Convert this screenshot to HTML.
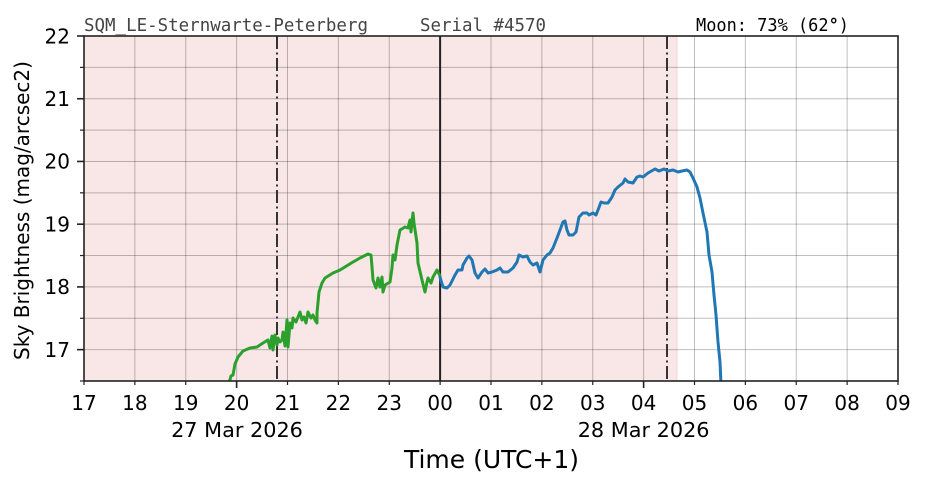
<!DOCTYPE html>
<html>
<head>
<meta charset="utf-8">
<style>
html,body{margin:0;padding:0;background:#fff;}
svg{display:block;}
.tick{font-family:"DejaVu Sans","Liberation Sans",sans-serif;font-size:20px;fill:#000;}
.mono{font-family:"DejaVu Sans Mono","Liberation Mono",monospace;font-size:17.4px;}
</style>
</head>
<body>
<svg width="926" height="488" viewBox="0 0 926 488" xmlns="http://www.w3.org/2000/svg">
<defs>
<clipPath id="c"><rect x="84" y="36" width="814" height="345"/></clipPath>
</defs>
<rect x="0" y="0" width="926" height="488" fill="#fff"/>
<rect x="84" y="36" width="593" height="345" fill="#f9e6e7"/>
<line x1="677" y1="36" x2="677" y2="381" stroke="#f6d4d6" stroke-width="1"/>
<g stroke="#000" stroke-opacity="0.25" stroke-width="1">
<line x1="84" y1="67.36" x2="898" y2="67.36"/>
<line x1="84" y1="98.73" x2="898" y2="98.73"/>
<line x1="84" y1="130.09" x2="898" y2="130.09"/>
<line x1="84" y1="161.45" x2="898" y2="161.45"/>
<line x1="84" y1="192.82" x2="898" y2="192.82"/>
<line x1="84" y1="224.18" x2="898" y2="224.18"/>
<line x1="84" y1="255.55" x2="898" y2="255.55"/>
<line x1="84" y1="286.91" x2="898" y2="286.91"/>
<line x1="84" y1="318.27" x2="898" y2="318.27"/>
<line x1="84" y1="349.64" x2="898" y2="349.64"/>
<line x1="134.875" y1="36" x2="134.875" y2="381"/>
<line x1="185.75" y1="36" x2="185.75" y2="381"/>
<line x1="236.625" y1="36" x2="236.625" y2="381"/>
<line x1="287.5" y1="36" x2="287.5" y2="381"/>
<line x1="338.375" y1="36" x2="338.375" y2="381"/>
<line x1="389.25" y1="36" x2="389.25" y2="381"/>
<line x1="491" y1="36" x2="491" y2="381"/>
<line x1="541.875" y1="36" x2="541.875" y2="381"/>
<line x1="592.75" y1="36" x2="592.75" y2="381"/>
<line x1="643.625" y1="36" x2="643.625" y2="381"/>
<line x1="694.5" y1="36" x2="694.5" y2="381"/>
<line x1="745.375" y1="36" x2="745.375" y2="381"/>
<line x1="796.25" y1="36" x2="796.25" y2="381"/>
<line x1="847.125" y1="36" x2="847.125" y2="381"/>
</g>
<line x1="277" y1="36" x2="277" y2="381" stroke="#333" stroke-width="2" stroke-dasharray="13,3.5,2,3.5"/>
<line x1="667" y1="36" x2="667" y2="381" stroke="#333" stroke-width="2" stroke-dasharray="13,3.5,2,3.5"/>
<line x1="440.1" y1="36" x2="440.1" y2="381" stroke="#222" stroke-width="2"/>
<g clip-path="url(#c)" fill="none" stroke-width="3" stroke-linejoin="round" stroke-linecap="round">
<polyline stroke="#2ca02c" points="229,383 231,376 233,375 235,364 238,357 243,351 250,348 257,347 263,343 268,340 270,348 272,336 273,350 275,335 277,345 278,338 280,342 282,340 283,332 285,346 287,320 288,347 290,323 292,328 293,318 296,322 300,312 302,320 304,317 306,323 308,312 311,318 313,315 315,320 317,323 317,313 319,292 322,283 325,278 333,273 340,270 353,262 360,258 368,254 371,255 372,267 373,280 376,288 378,278 380,287 382,277 383,292 385,285 390,282 392,268 393,255 395,260 397,245 400,230 405,227 408,228 410,220 411,232 413,213 414,223 417,243 418,263 422,280 425,292 427,282 428,278 431,283 433,277 437,270 439,274 440,276"/>
<polyline stroke="#1f77b4" points="440,277 443,287 447,288 450,285 455,275 458,270 462,270 463,265 467,258 469,256 472,260 475,273 478,278 482,272 485,269 488,273 492,272 497,270 500,268 503,272 508,272 513,268 517,262 519,255 523,257 527,256 530,262 533,265 537,263 540,272 543,260 547,255 550,253 553,248 557,238 560,230 563,222 565,221 567,230 569,235 573,235 576,232 579,217 583,213 587,213 589,215 593,213 596,215 598,210 601,202 604,203 608,203 612,197 615,190 618,187 623,183 625,179 628,182 633,183 637,177 640,176 643,177 648,173 655,169 659,171 664,169 668,171 673,170 678,172 682,171 687,170 690,172 693,178 697,187 700,198 703,213 707,232 709,255 712,272 714,295 716,315 718,342 720,362 721,384"/>
</g>
<rect x="84" y="36" width="814" height="345" fill="none" stroke="#222" stroke-width="1.6"/>
<g stroke="#222" stroke-width="1.6">
<line x1="77" y1="36" x2="84" y2="36"/>
<line x1="77" y1="98.73" x2="84" y2="98.73"/>
<line x1="77" y1="161.45" x2="84" y2="161.45"/>
<line x1="77" y1="224.18" x2="84" y2="224.18"/>
<line x1="77" y1="286.91" x2="84" y2="286.91"/>
<line x1="77" y1="349.64" x2="84" y2="349.64"/>
</g>
<g stroke="#222" stroke-width="1.2">
<line x1="80" y1="67.36" x2="84" y2="67.36"/>
<line x1="80" y1="130.09" x2="84" y2="130.09"/>
<line x1="80" y1="192.82" x2="84" y2="192.82"/>
<line x1="80" y1="255.55" x2="84" y2="255.55"/>
<line x1="80" y1="318.27" x2="84" y2="318.27"/>
<line x1="80" y1="381" x2="84" y2="381"/>
</g>
<g stroke="#222" stroke-width="1.2">
<line x1="84" y1="381" x2="84" y2="385"/>
<line x1="134.875" y1="381" x2="134.875" y2="385"/>
<line x1="185.75" y1="381" x2="185.75" y2="385"/>
<line x1="287.5" y1="381" x2="287.5" y2="385"/>
<line x1="338.375" y1="381" x2="338.375" y2="385"/>
<line x1="389.25" y1="381" x2="389.25" y2="385"/>
<line x1="440.125" y1="381" x2="440.125" y2="385"/>
<line x1="491" y1="381" x2="491" y2="385"/>
<line x1="541.875" y1="381" x2="541.875" y2="385"/>
<line x1="592.75" y1="381" x2="592.75" y2="385"/>
<line x1="694.5" y1="381" x2="694.5" y2="385"/>
<line x1="745.375" y1="381" x2="745.375" y2="385"/>
<line x1="796.25" y1="381" x2="796.25" y2="385"/>
<line x1="847.125" y1="381" x2="847.125" y2="385"/>
<line x1="898" y1="381" x2="898" y2="385"/>
</g>
<g stroke="#222" stroke-width="1.6">
<line x1="236.625" y1="381" x2="236.625" y2="388"/>
<line x1="643.625" y1="381" x2="643.625" y2="388"/>
</g>
<g class="tick" text-anchor="end">
<text x="70" y="43.3">22</text>
<text x="70" y="106">21</text>
<text x="70" y="168.7">20</text>
<text x="70" y="231.5">19</text>
<text x="70" y="294.2">18</text>
<text x="70" y="356.9">17</text>
</g>
<g class="tick" text-anchor="middle">
<text x="84" y="410">17</text>
<text x="134.875" y="410">18</text>
<text x="185.75" y="410">19</text>
<text x="236.625" y="410">20</text>
<text x="287.5" y="410">21</text>
<text x="338.375" y="410">22</text>
<text x="389.25" y="410">23</text>
<text x="440.125" y="410">00</text>
<text x="491" y="410">01</text>
<text x="541.875" y="410">02</text>
<text x="592.75" y="410">03</text>
<text x="643.625" y="410">04</text>
<text x="694.5" y="410">05</text>
<text x="745.375" y="410">06</text>
<text x="796.25" y="410">07</text>
<text x="847.125" y="410">08</text>
<text x="898" y="410">09</text>
<text x="237" y="437" font-size="20.8">27 Mar 2026</text>
<text x="643.625" y="437" font-size="20.8">28 Mar 2026</text>
</g>
<text x="491.5" y="468" text-anchor="middle" font-family="DejaVu Sans, Liberation Sans, sans-serif" font-size="25" fill="#000">Time (UTC+1)</text>
<text transform="translate(29,210.5) rotate(-90)" text-anchor="middle" font-family="DejaVu Sans, Liberation Sans, sans-serif" font-size="20" fill="#000">Sky Brightness (mag/arcsec2)</text>
<text class="mono" x="84" y="31" fill="#444" textLength="284" lengthAdjust="spacingAndGlyphs">SQM_LE-Sternwarte-Peterberg</text>
<text class="mono" x="420" y="31" fill="#444" textLength="126" lengthAdjust="spacingAndGlyphs">Serial #4570</text>
<text class="mono" x="696" y="31" fill="#000" textLength="153" lengthAdjust="spacingAndGlyphs">Moon: 73% (62<tspan font-weight="bold">°</tspan>)</text>
</svg>
</body>
</html>
